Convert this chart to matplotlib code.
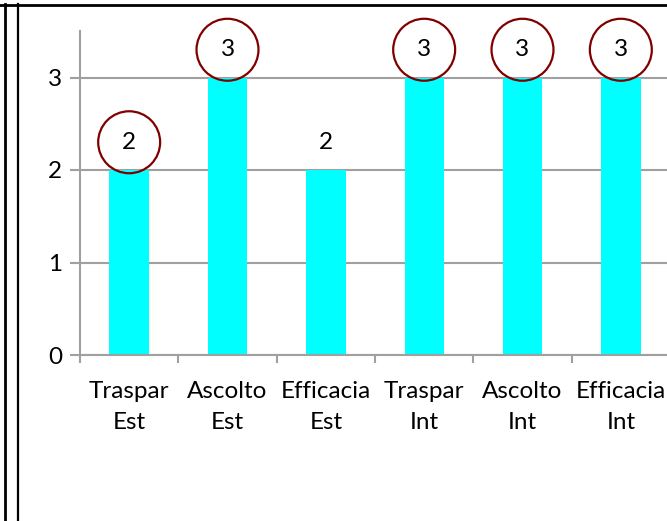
import matplotlib.pyplot as plt
from matplotlib.lines import Line2D

categories = ["Traspar\nEst", "Ascolto\nEst", "Efficacia\nEst",
              "Traspar\nInt", "Ascolto\nInt", "Efficacia\nInt"]
values = [2, 3, 2, 3, 3, 3]
circled = [True, True, False, True, True, True]
yticks = [0, 1, 2, 3]

plt.rcParams['font.family'] = ['Lato', 'DejaVu Sans']

fig = plt.figure(figsize=(6.67, 5.21), dpi=100)
ax = fig.add_axes([80 / 667, 1 - 355 / 521, 590 / 667, 323.75 / 521])

x = list(range(len(categories)))
ax.bar(x, values, width=0.4, color="#00FFFF", zorder=2)

ax.set_xlim(-0.5, len(categories) - 0.5)
ax.set_ylim(0, 3.5)
ax.set_yticks(yticks)
ax.yaxis.grid(True, color="#A0A0A0", linewidth=1.5, zorder=0)
ax.set_axisbelow(True)

# x ticks sit between categories, labels at category centres
ax.set_xticks([i - 0.5 for i in range(len(categories) + 1)])
ax.set_xticklabels([])
ax.set_xticks(x, minor=True)
ax.set_xticklabels(categories, minor=True, fontsize=17.5, linespacing=1.55)
ax.tick_params(axis='x', which='minor', length=0, pad=19)
ax.tick_params(axis='x', which='major', length=6, width=1.5, color="#A0A0A0", direction='out')
ax.tick_params(axis='y', length=7, width=1.5, color="#A0A0A0", labelsize=17.5, pad=6)

for s in ["top", "right"]:
    ax.spines[s].set_visible(False)
for s in ["left", "bottom"]:
    ax.spines[s].set_color("#A0A0A0")
    ax.spines[s].set_linewidth(1.5)

# value labels, with circle markers around most of them
for xi, v, c in zip(x, values, circled):
    ax.text(xi, v + 0.3, str(v), ha='center', va='center', fontsize=17.5, zorder=4)
    if c:
        ax.scatter([xi], [v + 0.3], s=1990, facecolors='none', edgecolors="#800000",
                   linewidths=1.6, zorder=3, clip_on=False)

# outer frame
fig.add_artist(Line2D([0, 1], [1 - 4.5 / 521] * 2, transform=fig.transFigure, color='black', linewidth=2))
fig.add_artist(Line2D([4.5 / 667] * 2, [0, 1 - 3.5 / 521], transform=fig.transFigure, color='black', linewidth=2))
fig.add_artist(Line2D([17.5 / 667] * 2, [0, 1 - 3.5 / 521], transform=fig.transFigure, color='black', linewidth=1.6))

fig.savefig("out.png", dpi=100)
